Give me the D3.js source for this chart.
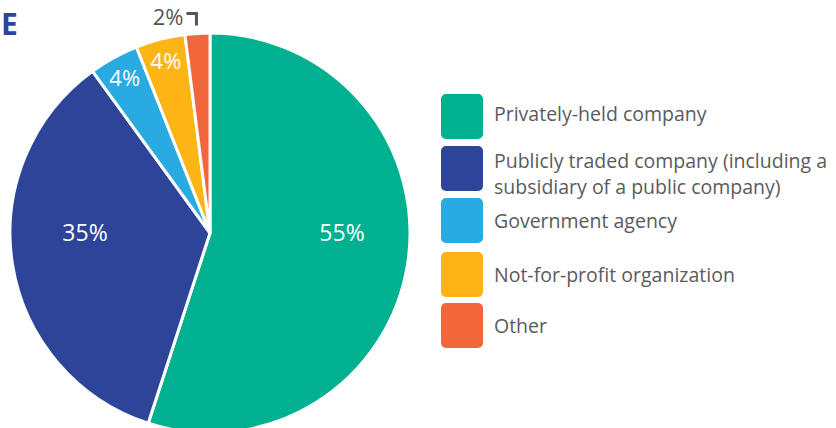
<!DOCTYPE html><html><head><meta charset="UTF-8"><script src="https://d3js.org/d3.v7.min.js"></script><style>
  body { margin: 0; background: #fff; }
  svg { font-family: "Open Sans", "Noto Sans", sans-serif; }
</style></head><body><div id="chart"></div><script>
const categories = ["Privately-held company", "Publicly traded company (including a|subsidiary of a public company)", "Government agency", "Not-for-profit organization", "Other"];
const values = [55, 35, 4, 4, 2];
const colors = ["#00b190", "#2d4499", "#29abe2", "#fdb515", "#f1673b"];

const W = 836, H = 428;
const cx = 210, cy = 233, R = 200;

const svg = d3.select('#chart').append('svg').attr('width', W).attr('height', H);

svg.append('text').attr('x', 1).attr('y', 35)
  .attr('fill', '#2d4499').attr('font-weight', 'bold').attr('font-size', 30)
  .text('E');

const pie = d3.pie().sort(null).value(d => d);
const arcs = pie(values);
const arc = d3.arc().innerRadius(0).outerRadius(R);

const g = svg.append('g').attr('transform', `translate(${cx},${cy})`);
g.selectAll('path').data(arcs).enter().append('path')
  .attr('d', arc)
  .attr('fill', (d, i) => colors[i])
  .attr('stroke', '#fff').attr('stroke-width', 3).attr('stroke-linejoin', 'round');

// big slices: label level with the centre; small ones along the mid-angle
function labelPos(d, i) {
  const a = (d.startAngle + d.endAngle) / 2;
  if (i < 2) return [Math.sign(Math.sin(a)) * (i === 0 ? 132 : 125), 0];
  return [Math.sin(a) * 177, -Math.cos(a) * 177];
}
g.selectAll('text.lbl').data(arcs.slice(0, 4)).enter().append('text')
  .attr('class', 'lbl')
  .attr('transform', (d, i) => `translate(${labelPos(d, i)})`)
  .attr('text-anchor', 'middle').attr('dy', '0.36em')
  .attr('fill', '#fff').attr('font-size', (d, i) => i < 2 ? 23 : 22)
  .text(d => d.data + '%');

// small slice label outside with bracket
const small = arcs[4];
const sa = (small.startAngle + small.endAngle) / 2;
const sx = Math.sin(sa) * R, sy = -Math.cos(sa) * R;
g.append('path')
  .attr('d', `M${sx - 11},${sy - 20}H${sx - 1}V${sy - 8}`)
  .attr('fill', 'none').attr('stroke', '#555').attr('stroke-width', 3);
g.append('text')
  .attr('x', sx - 14).attr('y', sy - 8)
  .attr('text-anchor', 'end').attr('fill', '#555').attr('font-size', 22)
  .text(small.data + '%');

// legend
const legY = [94, 146, 198, 252, 303];
const leg = svg.append('g');
categories.forEach((c, i) => {
  leg.append('rect').attr('x', 441).attr('y', legY[i]).attr('width', 42).attr('height', 45)
    .attr('rx', 5).attr('fill', colors[i]);
  const lines = c.split('|');
  const t = leg.append('text').attr('fill', '#5a5b5d').attr('font-size', 19.5);
  const y0 = lines.length > 1 ? legY[i] + 15 : legY[i] + (i === 0 ? 20 : 23);
  lines.forEach((l, j) => {
    t.append('tspan').attr('x', 494).attr('y', y0 + j * 26).attr('dy', '0.35em').text(l);
  });
});
</script></body></html>
